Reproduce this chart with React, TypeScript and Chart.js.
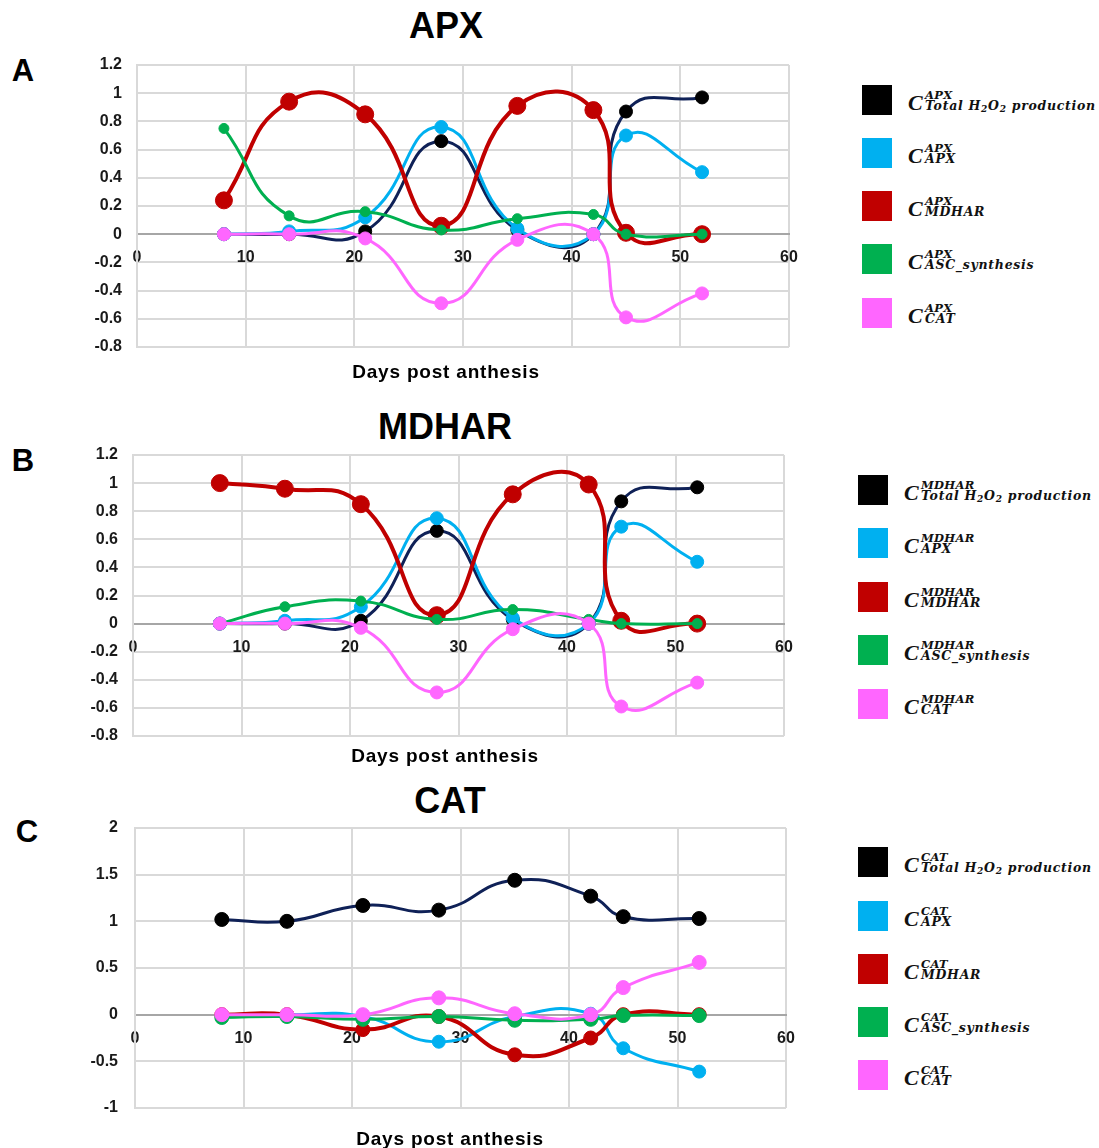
import React, { useEffect, useRef } from "react";
import { Chart, registerables } from "chart.js";
Chart.register(...registerables);

// ---------------- data ----------------
const days = [8, 14, 21, 28, 35, 42, 45, 52];

// Panel A (APX)
const apxTotal = [0, 0, 0.02, 0.66, 0.03, 0, 0.87, 0.97];
const apxApx = [0, 0.02, 0.12, 0.76, 0.04, 0, 0.7, 0.44];
const apxMdhar = [0.24, 0.94, 0.85, 0.06, 0.91, 0.88, 0.01, 0];
const apxAsc = [0.75, 0.13, 0.16, 0.03, 0.11, 0.14, 0, 0];
const apxCat = [0, 0, -0.03, -0.49, -0.04, 0, -0.59, -0.42];

// Panel B (MDHAR)
const mdTotal = [0, 0, 0.02, 0.66, 0.03, 0, 0.87, 0.97];
const mdApx = [0, 0.02, 0.12, 0.75, 0.04, 0, 0.69, 0.44];
const mdMdhar = [1.0, 0.96, 0.85, 0.06, 0.92, 0.99, 0.02, 0];
const mdAsc = [0, 0.12, 0.16, 0.03, 0.1, 0.03, 0, 0];
const mdCat = [0, 0, -0.03, -0.49, -0.04, 0, -0.59, -0.42];

// Panel C (CAT)
const catTotal = [1.02, 1.0, 1.17, 1.12, 1.44, 1.27, 1.05, 1.03];
const catApx = [0, 0, -0.02, -0.29, -0.02, 0.01, -0.36, -0.61];
const catMdhar = [0, 0, -0.16, -0.02, -0.43, -0.25, 0, 0];
const catAsc = [-0.03, -0.02, -0.05, -0.02, -0.06, -0.05, -0.01, -0.01];
const catCat = [0, 0, 0, 0.18, 0.01, 0, 0.29, 0.56];

const panelTitles = ["APX", "MDHAR", "CAT"];
const panelLetters = ["A", "B", "C"];
const xAxisTitle = "Days post anthesis";
const legendSubs = ["Total H2O2 production", "APX", "MDHAR", "ASC_synthesis", "CAT"];

// ---------------- styles ----------------
const COLORS = {
  totalLine: "#0f2157",
  totalPoint: "#000000",
  apx: "#00b0f0",
  mdhar: "#c00000",
  asc: "#00b050",
  cat: "#ff66ff",
};
const legendColors = ["#000000", "#00b0f0", "#c00000", "#00b050", "#ff66ff"];
const GRID = "#d9d9d9";
const ZERO = "#a6a6a6";
const TICK = "#1a1a1a";
const SANS = "'Liberation Sans', Arial, sans-serif";
const SERIF = "'DejaVu Serif', 'Liberation Serif', serif";
const SERIF2 = "'Liberation Serif', 'DejaVu Serif', serif";

type Geo = { left: number; right: number; top: number; bottom: number };

const YW = 80;
const PADT = 30;
const PADB = 30;
const PADR = 30;

function toPts(vals: number[]) {
  return days.map((d, i) => ({ x: d, y: vals[i] }));
}

function ds(vals: number[], line: string, point: string, width: number, radius: number, order: number) {
  return {
    data: toPts(vals),
    borderColor: line,
    backgroundColor: point,
    pointBackgroundColor: point,
    pointBorderColor: point,
    borderWidth: width,
    pointRadius: radius,
    pointBorderWidth: 1,
    tension: 0.5,
    order,
  };
}

function ChartPanel(props: {
  geo: Geo;
  series: number[][];
  yMin: number;
  yMax: number;
  yStep: number;
  radii: number[];
  yPad: number;
}) {
  const ref = useRef<HTMLCanvasElement | null>(null);
  const { geo, series, yMin, yMax, yStep, radii, yPad } = props;
  const w = geo.right - geo.left + YW + PADR;
  const h = geo.bottom - geo.top + PADT + PADB;
  useEffect(() => {
    if (!ref.current) return;
    const chart = new Chart(ref.current, {
      type: "line",
      data: {
        datasets: [
          ds(series[0], COLORS.totalLine, COLORS.totalPoint, 3, radii[0], 5),
          ds(series[1], COLORS.apx, COLORS.apx, 3, radii[1], 4),
          ds(series[2], COLORS.mdhar, COLORS.mdhar, 4, radii[2], 3),
          ds(series[3], COLORS.asc, COLORS.asc, 3, radii[3], 2),
          ds(series[4], COLORS.cat, COLORS.cat, 3, radii[4], 1),
        ] as any,
      },
      options: {
        responsive: false,
        animation: false,
        layout: { padding: { top: PADT, bottom: PADB, right: PADR, left: 0 } },
        plugins: { legend: { display: false }, tooltip: { enabled: false } },
        scales: {
          x: {
            type: "linear",
            min: 0,
            max: 60,
            position: { y: 0 } as any,
            ticks: {
              stepSize: 10,
              color: TICK,
              padding: 14,
              font: { family: SANS, size: 16, weight: "bold" },
              maxRotation: 0,
            },
            grid: { color: GRID, lineWidth: 2, drawTicks: false },
            border: { color: ZERO, width: 2 },
            afterFit: (s: any) => {
              s.height = 0;
            },
          },
          y: {
            type: "linear",
            min: yMin,
            max: yMax,
            ticks: {
              stepSize: yStep,
              color: TICK,
              padding: yPad,
              font: { family: SANS, size: 16, weight: "bold" },
              callback: (v: any) => String(Number(Number(v).toFixed(1))),
            },
            grid: { color: GRID, lineWidth: 2, drawTicks: false },
            border: { color: GRID, width: 2 },
            afterFit: (s: any) => {
              s.width = YW;
            },
          },
        },
      } as any,
    });
    return () => chart.destroy();
  }, []);
  return (
    <canvas
      ref={ref}
      width={w}
      height={h}
      style={{ position: "absolute", left: geo.left - YW, top: geo.top - PADT, width: w, height: h }}
    />
  );
}

// text placed so that its baseline sits at y (approximate, line-height = font size)
function BaseText(props: { x: number; y: number; size: number; family: string; ratio: number; children: any; spacing?: number }) {
  const { x, y, size, family, ratio, children, spacing } = props;
  return (
    <div
      style={{
        position: "absolute",
        left: x,
        top: y - ratio * size,
        fontFamily: family,
        fontSize: size,
        lineHeight: size + "px",
        fontStyle: "italic",
        fontWeight: "bold",
        color: "#111",
        whiteSpace: "nowrap",
        letterSpacing: spacing || 0,
      }}
    >
      {children}
    </div>
  );
}

function SubLabel({ sub }: { sub: string }) {
  if (sub === "Total H2O2 production") {
    return (
      <span>
        Total H<span style={{ fontSize: 9, position: "relative", top: 2 }}>2</span>O
        <span style={{ fontSize: 9, position: "relative", top: 2 }}>2</span> production
      </span>
    );
  }
  return <span>{sub}</span>;
}

function Legend({ x, ys, sup }: { x: number; ys: number[]; sup: string }) {
  return (
    <>
      {ys.map((cy, i) => (
        <React.Fragment key={i}>
          <div
            style={{ position: "absolute", left: x, top: cy - 15, width: 30, height: 30, background: legendColors[i] }}
          />
          <BaseText x={x + 46} y={cy + 10} size={22} family={SERIF2} ratio={0.8375}>
            C
          </BaseText>
          <BaseText x={x + 63} y={cy} size={11.5} family={SERIF} ratio={0.846} spacing={0.3}>
            {sup}
          </BaseText>
          <BaseText x={x + 63} y={cy + 10.5} size={12.5} family={SERIF} ratio={0.846} spacing={0.72}>
            <SubLabel sub={legendSubs[i]} />
          </BaseText>
        </React.Fragment>
      ))}
    </>
  );
}

function CenterText(props: { x: number; y: number; text: string; size: number; spacing?: number }) {
  const { x, y, text, size, spacing } = props;
  return (
    <div
      style={{
        position: "absolute",
        left: x,
        top: y,
        transform: "translate(-50%, -50%)",
        fontFamily: SANS,
        fontWeight: "bold",
        fontSize: size,
        color: "#000",
        whiteSpace: "nowrap",
        lineHeight: 1,
        letterSpacing: spacing || 0,
      }}
    >
      {text}
    </div>
  );
}

const geoA: Geo = { left: 137, right: 789, top: 65, bottom: 347 };
const geoB: Geo = { left: 133, right: 784, top: 455, bottom: 736 };
const geoC: Geo = { left: 135, right: 786, top: 828, bottom: 1108 };

export default function App() {
  return (
    <div style={{ position: "absolute", left: 0, top: 0, width: 1099, height: 1148, background: "#fff", overflow: "hidden" }}>
      <CenterText x={446} y={26} text={panelTitles[0]} size={36} />
      <CenterText x={445} y={427} text={panelTitles[1]} size={36} />
      <CenterText x={450} y={801} text={panelTitles[2]} size={36} />
      <CenterText x={23} y={70} text={panelLetters[0]} size={31} />
      <CenterText x={23} y={460} text={panelLetters[1]} size={31} />
      <CenterText x={27} y={831} text={panelLetters[2]} size={31} />

      <ChartPanel
        geo={geoA}
        series={[apxTotal, apxApx, apxMdhar, apxAsc, apxCat]}
        yMin={-0.8}
        yMax={1.2}
        yStep={0.2}
        radii={[6.5, 6.5, 8.5, 5, 6.5]}
        yPad={15}
      />
      <ChartPanel
        geo={geoB}
        series={[mdTotal, mdApx, mdMdhar, mdAsc, mdCat]}
        yMin={-0.8}
        yMax={1.2}
        yStep={0.2}
        radii={[6.5, 6.5, 8.5, 5, 6.5]}
        yPad={15}
      />
      <ChartPanel
        geo={geoC}
        series={[catTotal, catApx, catMdhar, catAsc, catCat]}
        yMin={-1}
        yMax={2}
        yStep={0.5}
        radii={[7, 6.5, 7, 7, 7]}
        yPad={17}
      />

      <CenterText x={446} y={371} text={xAxisTitle} size={19} spacing={0.8} />
      <CenterText x={445} y={755} text={xAxisTitle} size={19} spacing={0.8} />
      <CenterText x={450} y={1138} text={xAxisTitle} size={19} spacing={0.8} />

      <Legend x={862} ys={[100, 153, 206, 259, 313]} sup="APX" />
      <Legend x={858} ys={[490, 543, 597, 650, 704]} sup="MDHAR" />
      <Legend x={858} ys={[862, 916, 969, 1022, 1075]} sup="CAT" />
    </div>
  );
}
